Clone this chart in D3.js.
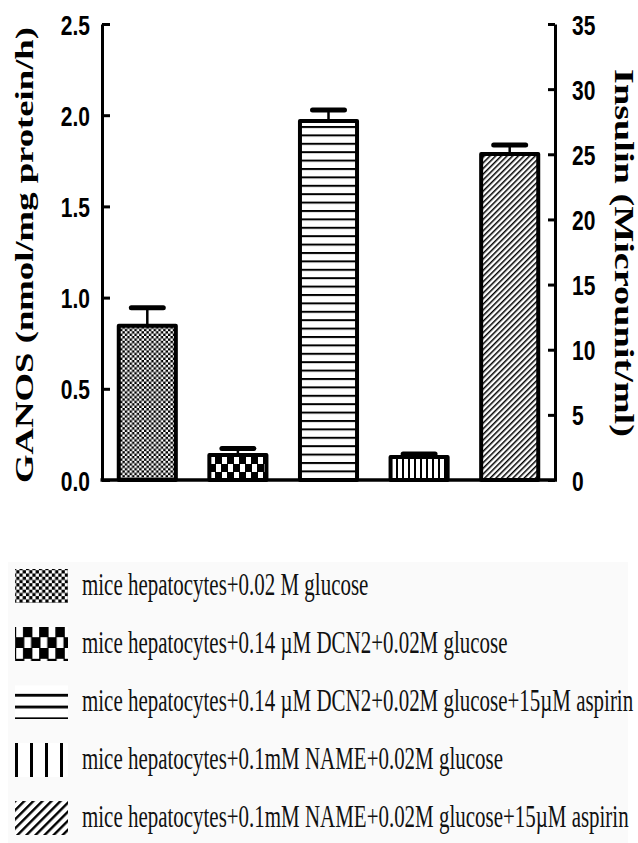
<!DOCTYPE html>
<html>
<head>
<meta charset="utf-8">
<script src="https://cdn.jsdelivr.net/npm/d3@7"></script>
<style>
  body { margin: 0; background: #fff; }
  svg { display: block; }
</style>
</head>
<body>
<div id="chart"></div>
<script>
/* Data */
var groups = [
    "mice hepatocytes+0.02 M glucose",
    "mice hepatocytes+0.14 \u00b5M DCN2+0.02M glucose",
    "mice hepatocytes+0.14 \u00b5M DCN2+0.02M glucose+15\u00b5M aspirin",
    "mice hepatocytes+0.1mM NAME+0.02M glucose",
    "mice hepatocytes+0.1mM NAME+0.02M glucose+15\u00b5M aspirin"
];
var ganos = [0.845, 0.137, 1.968, 0.126, 1.787];
var ganosErr = [0.10, 0.036, 0.06, 0.016, 0.049];
var patternKinds = ["fineChecker", "coarseChecker", "hlines", "vlines", "diag"];
var leftTicks = [0, 0.5, 1.0, 1.5, 2.0, 2.5];
var rightTicks = [0, 5, 10, 15, 20, 25, 30, 35];

/* canvas */
var width = 638,
    height = 843;
var plot = { left: 102, right: 555, top: 24, bottom: 480 };

var svg = d3.select("#chart")
    .append("svg")
    .attr("width", width)
    .attr("height", height);

/* scales */
var x = d3.scaleBand()
    .domain(groups)
    .range([plot.left, plot.right])
    .paddingInner(0.37)
    .paddingOuter(0.185);

var y = d3.scaleLinear().domain([0, 2.5]).range([plot.bottom, plot.top]);
var y2 = d3.scaleLinear().domain([0, 35]).range([plot.bottom, plot.top]);

/* hatch patterns, s = scale of the tile */
var defs = svg.append("defs");

function makePattern(id, kind, s) {
    var p = defs.append("pattern")
        .attr("id", id)
        .attr("patternUnits", "userSpaceOnUse");
    if (kind == "fineChecker") {
        var c = 2.4 * s;
        p.attr("width", 2 * c).attr("height", 2 * c);
        p.append("rect").attr("width", 2 * c).attr("height", 2 * c).attr("fill", "#000");
        p.append("rect").attr("x", 0).attr("y", 0).attr("width", c).attr("height", c).attr("fill", "#fff");
        p.append("rect").attr("x", c).attr("y", c).attr("width", c).attr("height", c).attr("fill", "#fff");
    } else if (kind == "coarseChecker") {
        p.attr("width", 12 * s).attr("height", 16 * s);
        p.append("rect").attr("width", 12 * s).attr("height", 16 * s).attr("fill", "#000");
        p.append("rect").attr("x", 0).attr("y", 0).attr("width", 5 * s).attr("height", 8 * s).attr("fill", "#fff");
        p.append("rect").attr("x", 6 * s).attr("y", 8 * s).attr("width", 5 * s).attr("height", 8 * s).attr("fill", "#fff");
    } else if (kind == "hlines") {
        p.attr("width", 10).attr("height", 8.4 * s);
        p.append("rect").attr("width", 10).attr("height", 8.4 * s).attr("fill", "#fff");
        p.append("rect").attr("y", 0).attr("width", 10).attr("height", 2 * s).attr("fill", "#000");
    } else if (kind == "vlines") {
        p.attr("width", 6 * s).attr("height", 10);
        p.append("rect").attr("width", 6 * s).attr("height", 10).attr("fill", "#fff");
        p.append("rect").attr("x", 0).attr("width", 2 * Math.min(s, 1.5)).attr("height", 10).attr("fill", "#000");
    } else if (kind == "diag") {
        p.attr("width", 4 * s).attr("height", 10)
            .attr("patternTransform", "rotate(45)");
        p.append("rect").attr("width", 4 * s).attr("height", 10).attr("fill", "#fff");
        p.append("rect").attr("x", 0).attr("width", 1.5 * s).attr("height", 10).attr("fill", "#000");
    }
}

var legendScale = [1.35, 1.35, 1.4, 2.5, 1.6];
patternKinds.forEach(function (k, i) {
    makePattern("bar-" + i, k, 1);
    makePattern("leg-" + i, k, legendScale[i]);
});

/* bars */
var data = groups.map(function (g, i) {
    return { name: g, value: ganos[i], err: ganosErr[i], idx: i };
});

svg.selectAll(".bar")
    .data(data)
    .enter().append("rect")
    .attr("class", "bar")
    .attr("x", function (d) { return x(d.name); })
    .attr("y", function (d) { return y(d.value); })
    .attr("width", x.bandwidth())
    .attr("height", function (d) { return y(0) - y(d.value); })
    .attr("fill", function (d) { return "url(#bar-" + d.idx + ")"; })
    .attr("stroke", "#000")
    .attr("stroke-width", 4)
    .attr("stroke-linejoin", "round");

/* error bars */
var capHalf = x.bandwidth() * 0.28;
var err = svg.selectAll(".err")
    .data(data)
    .enter().append("g")
    .attr("class", "err");

err.append("line")
    .attr("x1", function (d) { return x(d.name) + x.bandwidth() / 2; })
    .attr("x2", function (d) { return x(d.name) + x.bandwidth() / 2; })
    .attr("y1", function (d) { return y(d.value); })
    .attr("y2", function (d) { return y(d.value + d.err); })
    .attr("stroke", "#000")
    .attr("stroke-width", 2.5);

err.append("line")
    .attr("x1", function (d) { return x(d.name) + x.bandwidth() / 2 - capHalf; })
    .attr("x2", function (d) { return x(d.name) + x.bandwidth() / 2 + capHalf; })
    .attr("y1", function (d) { return y(d.value + d.err); })
    .attr("y2", function (d) { return y(d.value + d.err); })
    .attr("stroke", "#000")
    .attr("stroke-width", 5)
    .attr("stroke-linecap", "round");

/* axes: ticks point inward, labels condensed */
var squeezeTick = 0.75;

var yAxis = d3.axisLeft(y)
    .tickValues(leftTicks)
    .tickFormat(d3.format(".1f"))
    .tickSize(-8)
    .tickSizeOuter(0);

var y2Axis = d3.axisRight(y2)
    .tickValues(rightTicks)
    .tickFormat(d3.format("d"))
    .tickSize(-7)
    .tickSizeOuter(0);

function styleAxis(g, labelX) {
    g.attr("font-family", "'Liberation Sans', Arial, sans-serif")
        .attr("font-size", 28)
        .attr("font-weight", "bold");
    g.select(".domain").attr("stroke-width", 3).attr("stroke", "#000");
    g.selectAll(".tick line").attr("stroke-width", 3).attr("stroke", "#000");
    g.selectAll(".tick text")
        .attr("fill", "#000")
        .attr("x", labelX / squeezeTick)
        .attr("dy", "0.36em")
        .attr("transform", "scale(" + squeezeTick + ",1)");
}

svg.append("g")
    .attr("class", "y axis")
    .attr("transform", "translate(" + plot.left + ",0)")
    .call(yAxis)
    .call(styleAxis, -12);

svg.append("g")
    .attr("class", "y2 axis")
    .attr("transform", "translate(" + plot.right + ",0)")
    .call(y2Axis)
    .call(styleAxis, 17);

/* baseline */
svg.append("line")
    .attr("x1", plot.left - 1.5)
    .attr("x2", plot.right + 2)
    .attr("y1", y(0))
    .attr("y2", y(0))
    .attr("stroke", "#000")
    .attr("stroke-width", 3.5);

/* axis titles */
var midY = (plot.top + plot.bottom) / 2 + 3;

svg.append("text")
    .attr("transform", "translate(33," + midY + ") rotate(-90)")
    .attr("text-anchor", "middle")
    .attr("font-family", "'Liberation Serif', 'Times New Roman', serif")
    .attr("font-weight", "bold")
    .attr("font-size", 26)
    .attr("textLength", 456)
    .attr("lengthAdjust", "spacingAndGlyphs")
    .text("GANOS (nmol/mg protein/h)");

svg.append("text")
    .attr("transform", "translate(615," + (midY - 2) + ") rotate(90)")
    .attr("text-anchor", "middle")
    .attr("font-family", "'Liberation Serif', 'Times New Roman', serif")
    .attr("font-weight", "bold")
    .attr("font-size", 27)
    .attr("textLength", 368)
    .attr("lengthAdjust", "spacingAndGlyphs")
    .text("Insulin (Microunit/ml)");

/* legend */
var legendY = d3.scalePoint().domain(groups).range([595, 827]);
var squeezeLeg = 0.655;

svg.append("rect")
    .attr("x", 8)
    .attr("y", 562)
    .attr("width", 620)
    .attr("height", height - 562)
    .attr("fill", "#fafafa");

var legend = svg.selectAll(".legend")
    .data(data)
    .enter().append("g")
    .attr("class", "legend");

legend.append("rect")
    .attr("x", 15)
    .attr("y", function (d) { return legendY(d.name) - 26; })
    .attr("width", 53)
    .attr("height", 34)
    .attr("fill", function (d) { return "url(#leg-" + d.idx + ")"; });

legend.append("text")
    .attr("x", 82 / squeezeLeg)
    .attr("y", function (d) { return legendY(d.name); })
    .attr("transform", "scale(" + squeezeLeg + ",1)")
    .attr("font-family", "'Liberation Serif', 'Times New Roman', serif")
    .attr("font-size", 32)
    .attr("fill", "#111")
    .text(function (d) { return d.name; });
</script>
</body>
</html>
